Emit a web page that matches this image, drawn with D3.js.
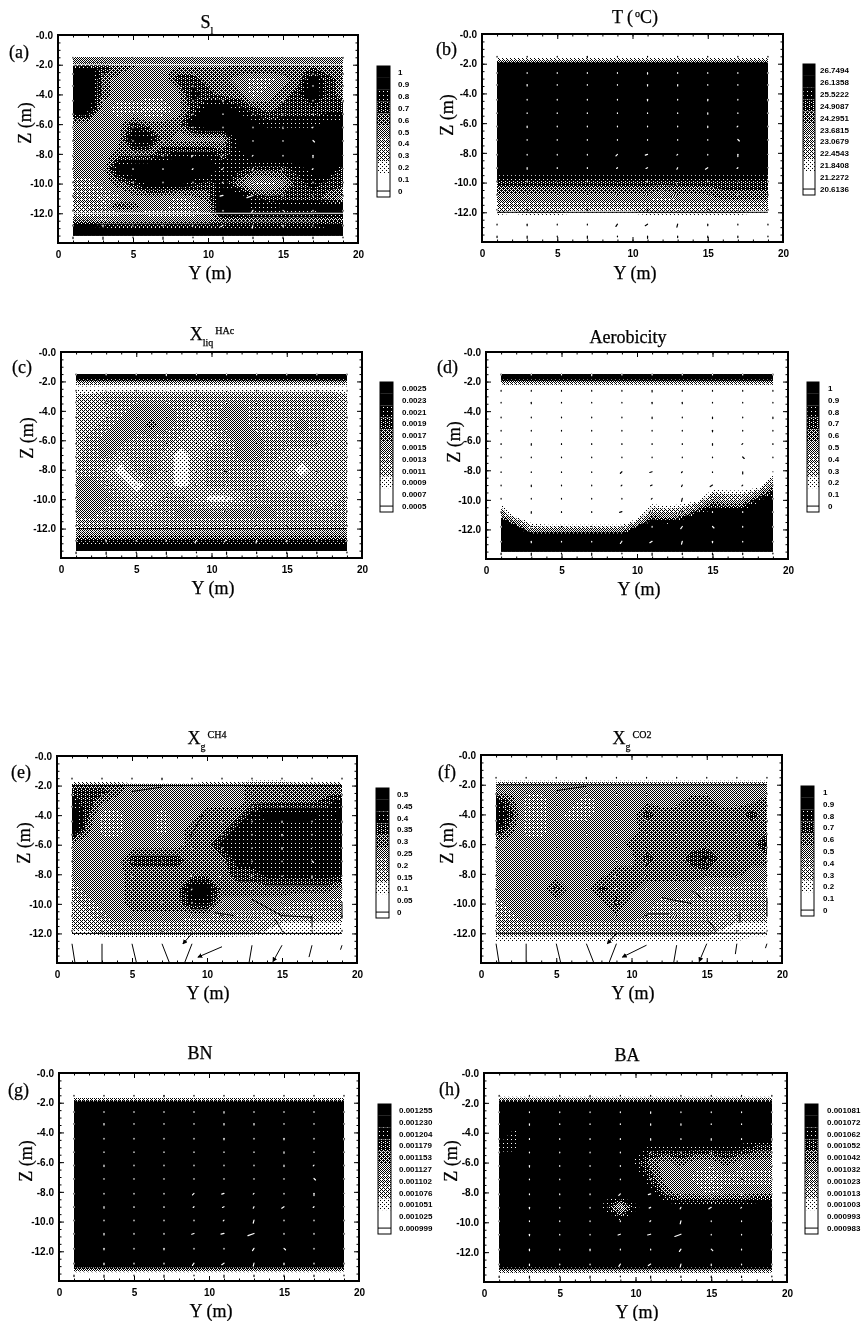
<!DOCTYPE html>
<html>
<head>
<meta charset="utf-8">
<script src="https://cdn.jsdelivr.net/npm/d3@7"></script>
<style>
  html, body { margin: 0; padding: 0; background: #fff; }
  .tick text { font-family: "Liberation Sans", sans-serif; font-weight: bold; font-size: 10px; fill: #000; }
  .serif { font-family: "Liberation Serif", serif; font-size: 18px; fill: #000; stroke: #000; stroke-width: 0.25px; }
  .bar-label { font-family: "Liberation Sans", sans-serif; font-weight: bold; font-size: 8px; fill: #000; }
</style>
</head>
<body>
<div class="canvas"></div>
<script>
// grid of the model output, fields below are written as colour bar band (0-10)
const gridY = [1,2,3,4,5,6,7,8,9,10,11,12,13,14,15,16,17,18,19];
const gridZ = [-1.5,-1.8,-2,-2.4,-3,-4,-5,-6,-7,-8,-9,-10,-11,-11.5,-12,-12.4,-13,-13.5];

const fieldA = [
  [5,5,5,5,5,5,5,5,5,5,5,5,5,5,5,5,5,5,5],
  [5,5,5,5,5,5,5,5,5,5,5,5,5,5,5,5,5,5,5],
  [6,7,7,6,6,5,5,5,5,5,5,6,6,6,6,6,6,6,6],
  [10,10,7,6,5,5,5,6,6,6,6,6,6,6,6,6,7,6,6],
  [10,10,6,5,5,5,5,7,7,6,6,5,4,4,5,6,9,7,6],
  [10,10,6,5,5,5,5,5,8,7,6,6,4,5,6,7,10,7,6],
  [10,9,5,4,4,3,3,5,7,9,10,8,7,6,7,7,7,7,7],
  [5,5,5,5,7,6,6,6,9,10,10,10,9,8,8,8,8,9,9],
  [5,5,5,5,9,9,6,5,5,5,5,9,10,10,10,10,10,10,10],
  [5,5,5,6,6,6,7,8,8,8,7,8,10,10,10,10,10,10,10],
  [5,5,5,9,10,10,10,10,10,10,8,8,7,7,7,8,9,10,7],
  [4,4,5,6,7,9,9,9,8,7,8,6,4,4,5,7,8,7,7],
  [4,4,3,4,5,5,5,4,5,6,10,10,8,7,7,7,7,6,5],
  [3,4,4,7,6,5,5,4,4,5,10,10,8,8,9,9,9,9,9],
  [4,3,4,4,5,4,4,4,4,5,10,10,8,8,8,8,8,9,9],
  [5,5,4,5,5,5,5,5,5,5,6,6,6,6,6,6,6,6,6],
  [9,9,9,8,8,8,8,8,8,8,8,8,8,8,8,8,8,9,9],
  [10,10,10,10,10,10,10,10,10,10,10,10,10,10,10,10,10,10,10]
];
const fieldB = [
  [0,0,0,0,0,0,0,0,0,0,0,0,0,0,0,0,0,0,0],
  [4,4,4,4,4,4,4,4,4,4,4,4,4,4,4,4,4,4,4],
  [10,10,10,10,10,10,10,10,10,10,10,10,10,10,10,10,10,10,10],
  [10,10,10,10,10,10,10,10,10,10,10,10,10,10,10,10,10,10,10],
  [10,10,10,10,10,10,10,10,10,10,10,10,10,10,10,10,10,10,10],
  [10,10,10,10,10,10,10,10,10,10,10,10,10,10,10,10,10,10,10],
  [10,10,10,10,10,10,10,10,10,10,10,10,10,10,10,10,10,10,10],
  [10,10,10,10,10,10,10,10,10,10,10,10,10,10,10,10,10,10,10],
  [10,10,10,10,10,10,10,10,10,10,10,10,10,10,10,10,10,10,10],
  [10,10,10,10,10,10,10,10,10,10,10,10,10,10,10,10,10,10,10],
  [10,10,10,10,10,10,10,10,10,10,10,10,10,10,10,10,10,10,10],
  [7,7,7,7,7,7,7,7,7,7,7,7,7,7,7,7,7,7,7],
  [5,5,5,5,5,5,5,5,5,5,5,4,5,5,5,6,6,6,6],
  [4,4,4,4,4,4,4,4,4,4,4,4,4,4,4,4,4,4,4],
  [3,2,3,3,3,2,2,2,2,2,3,3,3,3,3,3,3,2,2],
  [0,0,0,0,0,0,0,0,0,0,0,0,0,0,0,0,0,0,0],
  [0,0,0,0,0,0,0,0,0,0,0,0,0,0,0,0,0,0,0],
  [0,0,0,0,0,0,0,0,0,0,0,0,0,0,0,0,0,0,0]
];
const fieldC = [
  [10,10,10,10,10,10,10,10,10,10,10,10,10,10,10,10,10,10,10],
  [10,10,10,10,10,10,10,10,10,10,10,10,10,10,10,10,10,10,10],
  [5,5,5,5,5,5,5,5,5,5,5,5,5,5,5,5,5,5,5],
  [1,1,1,1,1,1,1,1,1,1,1,1,1,1,1,1,1,1,1],
  [3,3,4,4,4,4,4,4,4,4,4,4,4,4,4,4,4,4,3],
  [3,3,3,4,5,5,5,4,3,4,5,5,4,4,4,4,4,3,3],
  [3,3,4,5,5,6,5,4,3,4,5,5,4,3,4,5,4,3,3],
  [3,4,5,5,4,4,4,3,3,3,4,5,5,4,4,4,4,3,3],
  [3,4,5,3,4,4,3,2,3,4,4,5,5,4,3,3,3,3,3],
  [4,4,3,2,4,5,3,2,3,4,4,4,4,3,3,2,3,3,3],
  [5,5,4,3,2,3,3,2,3,4,4,4,4,3,3,3,3,3,3],
  [5,5,5,4,3,3,4,4,3,2,2,3,4,4,4,4,3,3,4],
  [5,5,4,4,4,4,4,5,5,5,5,5,5,5,4,4,4,4,4],
  [4,4,4,4,4,4,4,4,4,4,4,4,4,4,4,4,4,4,4],
  [4,4,4,4,4,4,4,4,4,4,4,4,4,4,4,4,4,4,4],
  [5,5,5,5,5,5,5,5,5,5,5,5,5,5,5,5,5,5,5],
  [8,8,8,8,8,8,8,8,8,8,8,8,8,8,8,8,8,8,8],
  [10,10,10,10,10,10,10,10,10,10,10,10,10,10,10,10,10,10,10]
];
const fieldD = [
  [10,10,10,10,10,10,10,10,10,10,10,10,10,10,10,10,10,10,10],
  [10,10,10,10,10,10,10,10,10,10,10,10,10,10,10,10,10,10,10],
  [5,5,5,5,5,5,5,5,5,5,5,5,5,5,5,5,5,5,5],
  [0,0,0,0,0,0,0,0,0,0,0,0,0,0,0,0,0,0,0],
  [0,0,0,0,0,0,0,0,0,0,0,0,0,0,0,0,0,0,0],
  [0,0,0,0,0,0,0,0,0,0,0,0,0,0,0,0,0,0,0],
  [0,0,0,0,0,0,0,0,0,0,0,0,0,0,0,0,0,0,0],
  [0,0,0,0,0,0,0,0,0,0,0,0,0,0,0,0,0,0,0],
  [0,0,0,0,0,0,0,0,0,0,0,0,0,0,0,0,0,0,0],
  [0,0,0,0,0,0,0,0,0,0,0,0,0,0,0,0,0,0,0],
  [0,0,0,0,0,0,0,0,0,0,0,0,0,0,0,0,0,0,5],
  [0,0,0,0,0,0,0,0,0,0,0,0,0,1,5,4,4,8,10],
  [5,0,0,0,0,0,0,0,0,0,5,4,5,9,10,10,10,10,10],
  [10,5,1,0,0,0,0,0,0,3,9,8,10,10,10,10,10,10,10],
  [10,10,4,4,4,4,4,4,4,10,10,10,10,10,10,10,10,10,10],
  [10,10,9,9,9,9,9,9,9,10,10,10,10,10,10,10,10,10,10],
  [10,10,10,10,10,10,10,10,10,10,10,10,10,10,10,10,10,10,10],
  [10,10,10,10,10,10,10,10,10,10,10,10,10,10,10,10,10,10,10]
];
const fieldE = [
  [0,0,0,0,0,0,0,0,0,0,0,0,0,0,0,0,0,0,0],
  [2,2,2,2,1,1,1,1,1,2,2,2,3,3,3,2,2,2,2],
  [6,6,6,6,5,5,5,5,5,5,5,5,6,6,6,6,6,6,6],
  [7,7,7,6,5,5,5,5,5,5,5,5,6,6,6,6,6,6,6],
  [8,7,6,5,5,5,5,5,5,5,5,5,6,6,6,6,6,7,8],
  [10,7,4,4,5,5,4,5,5,6,6,6,8,9,9,9,9,8,9],
  [10,6,4,4,5,5,4,5,6,6,6,8,8,8,8,8,8,8,8],
  [5,5,5,5,5,5,5,5,6,6,8,8,8,8,8,8,8,8,8],
  [5,5,5,5,7,7,7,7,6,6,6,8,8,8,8,8,8,8,8],
  [5,5,5,5,6,6,6,6,6,6,6,7,7,8,8,8,8,8,8],
  [4,5,5,5,6,6,6,6,9,9,6,6,6,6,6,6,6,6,5],
  [3,4,5,5,6,6,6,6,8,8,5,5,5,5,5,4,4,4,4],
  [3,3,4,5,5,5,5,5,4,4,4,4,4,3,3,3,3,3,3],
  [3,3,3,4,4,4,4,4,4,3,3,3,3,3,2,2,2,2,2],
  [2,2,3,3,3,3,3,3,3,3,3,3,3,2,2,2,2,2,2],
  [0,0,0,1,1,1,1,1,1,1,1,0,0,0,0,0,0,0,0],
  [0,0,0,0,0,0,0,0,0,0,0,0,0,0,0,0,0,0,0],
  [0,0,0,0,0,0,0,0,0,0,0,0,0,0,0,0,0,0,0]
];
const fieldF = [
  [0,0,0,0,0,0,0,0,0,0,0,0,0,0,0,0,0,0,0],
  [2,2,2,2,2,2,2,2,2,2,2,2,2,2,2,2,2,2,2],
  [5,5,5,5,5,5,5,5,5,5,5,5,5,5,5,5,5,5,5],
  [5,5,5,5,5,5,5,5,5,5,5,5,5,5,5,5,5,5,5],
  [8,6,4,4,5,5,4,5,5,5,5,5,5,6,6,5,5,5,6],
  [9,7,4,4,5,4,4,5,5,5,7,6,6,6,6,6,6,7,6],
  [8,6,4,4,5,5,5,5,5,5,6,6,6,6,6,6,6,6,6],
  [5,5,5,5,5,5,5,5,5,6,6,6,6,6,6,6,6,6,8],
  [5,5,5,5,5,5,5,5,5,5,7,6,6,7,8,6,6,6,6],
  [5,5,5,5,5,5,5,5,6,6,6,6,6,6,6,6,6,5,5],
  [5,5,5,5,7,5,5,7,6,6,5,5,5,5,4,4,4,4,4],
  [4,5,5,5,5,5,5,5,7,5,5,4,4,4,4,4,4,4,4],
  [4,4,5,5,5,5,5,5,5,5,4,4,4,4,4,3,3,3,3],
  [4,4,4,4,4,4,4,4,4,4,4,4,4,4,3,3,2,2,2],
  [3,3,3,3,3,3,3,3,3,3,3,3,3,3,3,2,2,2,2],
  [2,2,2,2,2,2,2,2,2,2,2,2,2,2,2,2,2,1,1],
  [0,0,0,0,0,0,0,0,0,0,0,0,0,0,0,0,0,0,0],
  [0,0,0,0,0,0,0,0,0,0,0,0,0,0,0,0,0,0,0]
];
const fieldG = [
  [0,0,0,0,0,0,0,0,0,0,0,0,0,0,0,0,0,0,0],
  [4,4,4,4,4,4,4,4,4,4,4,4,4,4,4,4,4,4,4],
  [10,10,10,10,10,10,10,10,10,10,10,10,10,10,10,10,10,10,10],
  [10,10,10,10,10,10,10,10,10,10,10,10,10,10,10,10,10,10,10],
  [10,10,10,10,10,10,10,10,10,10,10,10,10,10,10,10,10,10,10],
  [10,10,10,10,10,10,10,10,10,10,10,10,10,10,10,10,10,10,10],
  [10,10,10,10,10,10,10,10,10,10,10,10,10,10,10,10,10,10,10],
  [10,10,10,10,10,10,10,10,10,10,10,10,10,10,10,10,10,10,10],
  [10,10,10,10,10,10,10,10,10,10,10,10,10,10,10,10,10,10,10],
  [10,10,10,10,10,10,10,10,10,10,10,10,10,10,10,10,10,10,10],
  [10,10,10,10,10,10,10,10,10,10,10,10,10,10,10,10,10,10,10],
  [10,10,10,10,10,10,10,10,10,10,10,10,10,10,10,10,10,10,10],
  [10,10,10,10,10,10,10,10,10,10,10,10,10,10,10,10,10,10,10],
  [10,10,10,10,10,10,10,10,10,10,10,10,10,10,10,10,10,10,10],
  [10,10,10,10,10,10,10,10,10,10,10,10,10,10,10,10,10,10,10],
  [10,10,10,10,10,10,10,10,10,10,10,10,10,10,10,10,10,10,10],
  [9,9,9,9,9,9,9,9,9,9,9,9,9,9,9,9,9,9,9],
  [0,0,0,0,0,0,0,0,0,0,0,0,0,0,0,0,0,0,0]
];
const fieldH = [
  [0,0,0,0,0,0,0,0,0,0,0,0,0,0,0,0,0,0,0],
  [5,5,5,5,5,5,5,5,5,5,5,5,5,5,5,5,5,5,5],
  [9,9,9,9,9,9,9,9,9,9,9,9,9,9,9,9,9,9,9],
  [10,10,10,10,10,10,10,10,10,10,10,10,10,10,10,10,10,10,10],
  [10,10,10,10,10,10,10,10,10,10,10,10,10,10,10,10,10,10,10],
  [10,8,10,10,10,10,10,10,10,10,10,10,10,10,10,10,10,10,10],
  [8,8,10,10,10,10,10,10,10,10,8,8,8,8,8,8,8,7,7],
  [10,10,10,10,10,10,10,10,10,8,6,5,6,5,5,6,5,5,5],
  [10,10,10,10,10,10,10,10,10,10,7,5,5,4,3,4,4,4,4],
  [10,10,10,10,10,10,10,9,10,10,9,6,5,5,4,5,5,5,5],
  [10,10,10,10,9,10,10,8,4,8,10,10,9,9,9,9,9,10,10],
  [10,10,10,10,10,10,10,10,9,10,10,10,10,10,10,10,10,10,10],
  [10,10,10,10,10,10,10,10,10,10,10,10,10,10,10,10,10,10,10],
  [10,10,10,10,10,10,10,10,10,10,10,10,10,10,10,10,10,10,10],
  [10,10,10,10,10,10,10,10,10,10,10,10,10,10,10,10,10,10,10],
  [10,10,10,10,10,10,10,10,10,10,10,10,10,10,10,10,10,10,10],
  [9,9,9,9,9,9,9,9,9,9,9,9,9,9,9,9,9,9,9],
  [0,0,0,0,0,0,0,0,0,0,0,0,0,0,0,0,0,0,0]
];

// colour bar labels, top to bottom
const labelsA = ["1","0.9","0.8","0.7","0.6","0.5","0.4","0.3","0.2","0.1","0"];
const labelsB = ["26.7494","26.1358","25.5222","24.9087","24.2951","23.6815","23.0679","22.4543","21.8408","21.2272","20.6136"];
const labelsC = ["0.0025","0.0023","0.0021","0.0019","0.0017","0.0015","0.0013","0.0011","0.0009","0.0007","0.0005"];
const labelsE = ["0.5","0.45","0.4","0.35","0.3","0.25","0.2","0.15","0.1","0.05","0"];
const labelsG = ["0.001255","0.001230","0.001204","0.001179","0.001153","0.001127","0.001102","0.001076","0.001051","0.001025","0.000999"];
const labelsH = ["0.001081","0.001072","0.001062","0.001052","0.001042","0.001032","0.001023","0.001013","0.001003","0.000993","0.000983"];

// axes
const yMajor = [0,5,10,15,20];
const yMinor = d3.range(0,21);
const zMajor = [0,-2,-4,-6,-8,-10,-12,-14];
const zMinor = d3.range(0,-14.5,-0.5);

// liquid velocity marks: start position and displacement, in metres
const quiverY = [1,3,5,7,9,11,13,15,17,19];
const quiverZ = [-1.5,-2.6,-3.4,-4.4,-5.3,-6.2,-7.1,-8.1,-9,-9.9,-10.8,-11.8,-12.8,-13.6];
const quiverU = [
  [0,0,0,0,0,0,0,0,0,0],
  [0,0,0,0,0,0,0,0,0,0],
  [0,0,0,0,0,0,0,0,0,0],
  [0,0,0,0,0,0,0,0,0,0],
  [0,0,0,0,0,0,0,0,0,0],
  [0,0,0,0,0,0,0,0,-.05,0],
  [0,0,0,0,0,0,0,0,.1,0],
  [0,0,0,0,-.1,-.15,-.05,0,0,0],
  [0,0,0,0,-.05,-.1,-.05,-.15,-.05,0],
  [0,0,0,0,0,-.05,-.05,0,0,0],
  [0,0,0,0,-.15,-.2,-.4,0,0,0],
  [0,0,0,0,0,0,-.1,.1,0,0],
  [0,0,0,0,-.1,-.15,-.05,0,0,0],
  [0,0,0,0,0,0,0,0,0,0]
];
const quiverW = [
  [-.05,-.05,-.05,-.1,-.05,-.05,-.05,-.05,-.05,-.05],
  [-.05,-.05,-.05,-.05,-.05,-.1,-.05,-.05,-.05,-.05],
  [-.05,-.1,-.05,-.05,-.05,-.1,-.1,-.05,-.05,-.05],
  [-.05,-.05,-.05,-.05,-.05,-.1,-.05,-.1,-.05,-.1],
  [-.05,-.05,-.05,-.05,-.05,-.05,-.05,-.1,-.05,-.05],
  [-.05,-.1,-.05,-.05,-.05,-.05,-.05,-.1,-.05,-.05],
  [-.05,-.05,-.05,-.05,-.05,-.05,-.05,-.05,-.1,-.05],
  [-.05,-.05,-.05,-.05,-.1,-.05,-.05,-.05,-.15,0],
  [-.05,-.1,-.05,-.05,-.05,-.05,-.1,-.1,-.05,0],
  [-.05,-.05,-.05,-.05,-.05,-.05,-.2,-.05,-.05,-.05],
  [-.05,-.1,-.05,-.05,-.05,-.05,-.15,-.05,-.05,-.05],
  [-.05,-.1,-.05,-.1,-.05,-.05,-.15,-.1,-.05,-.05],
  [-.05,-.1,-.05,-.05,-.15,-.1,-.2,-.1,-.05,-.05],
  [-.1,-.15,-.05,-.15,-.05,-.15,-.1,-.1,-.1,-.05]
];

// gas velocity [y0, z0, y1, z1]: plain dashes, then the few with a head
const stemsE = [
  [1,-12.7,1.2,-14],[3,-12.7,3,-14],[5,-12.7,5.3,-14],[7,-12.7,7.5,-14],[9,-12.7,8.5,-14],
  [13,-12.8,12.8,-14],[17,-12.8,16.8,-13.6],[19,-12.8,18.9,-13.1],
  [17,-10.8,17,-11.6],[19,-10,19,-11],[13,-9.7,15,-10.8],[15,-10.8,17,-10.9],
  [14.5,-11,15,-11.8],[11.8,-10.8,10.5,-10.6],[7,-2.1,5,-2.4],[9.7,-4,8.8,-5.6]
];
const headsE = [[11,-12.9,9.4,-13.6],[15,-12.8,14.4,-13.9],[9,-12,8.4,-12.7]];
const stemsF = [
  [1,-12.7,1.2,-14],[3,-12.7,3,-14],[5,-12.7,5.3,-14],[7,-12.7,7.5,-14],[9,-12.7,8.5,-14],
  [13,-12.8,12.8,-14],[17,-12.7,16.9,-13.4],[19,-12.7,18.9,-13],
  [14,-9.1,15,-9.9],[12,-9.6,14,-10],[17.2,-10.6,17.2,-11.3],[19,-9.6,19,-10.8],
  [15,-11,15.6,-11.8],[11,-10.7,12.5,-10.7],[7,-2.1,5,-2.4]
];
const headsF = [[11,-12.8,9.4,-13.6],[15,-12.7,14.5,-13.9],[9,-12,8.4,-12.7]];

// 4x4 halftone tiles for the 11 bands, bottom of the bar first
const halftones = [
  "0000000000000000","0000000000000000","1000000000100000","1010010010100001",
  "1010010110100001","1010010110100101","1011010111100101","1111101111101011",
  "1111111111111110","1111111111111111","1111111111111111"
];

const panels = [
  {tag:"(a)", field:fieldA, labels:labelsA, box:[58,35,358,243], bar:[377,66,390,197], barText:398, tagPos:[9,58], zPos:[31,123], yPos:[210,279], title:{x:207,y:28,parts:[["S",0],["l",1]]}, lines:[[-2,"#fff"],[-12,"#fff"]]},
  {tag:"(b)", field:fieldB, labels:labelsB, box:[482,34,783,242], bar:[803,64,815,195], barText:820, tagPos:[436,55], zPos:[453,115], yPos:[635,279], title:{x:635,y:23,parts:[["T (",0],["o",-1],["C)",0]]}, lines:[[-12,"#000"]]},
  {tag:"(c)", field:fieldC, labels:labelsC, box:[61,352,362,558], bar:[380,382,393,512], barText:402, tagPos:[12,373], zPos:[33,438], yPos:[213,594], title:{x:212,y:340,parts:[["X",0],["liq",1],["HAc",-1]]}, lines:[[-12,"#000"]]},
  {tag:"(d)", field:fieldD, labels:labelsA, box:[486,352,788,559], bar:[807,382,819,512], barText:828, tagPos:[437,373], zPos:[460,442], yPos:[639,595], title:{x:628,y:343,parts:[["Aerobicity",0]]}, lines:[]},
  {tag:"(e)", field:fieldE, labels:labelsE, box:[57,756,357,963], bar:[376,788,389,918], barText:397, tagPos:[11,778], zPos:[30,843], yPos:[208,999], title:{x:207,y:744,parts:[["X",0],["g",1],["CH4",-1]]}, lines:[[-2,"#000"],[-12,"#000"]], stems:stemsE, heads:headsE},
  {tag:"(f)", field:fieldF, labels:labelsA, box:[481,755,782,963], bar:[801,786,814,916], barText:823, tagPos:[438,778], zPos:[453,843], yPos:[633,999], title:{x:632,y:744,parts:[["X",0],["g",1],["CO2",-1]]}, lines:[[-2,"#000"],[-12,"#000"]], stems:stemsF, heads:headsF},
  {tag:"(g)", field:fieldG, labels:labelsG, box:[59,1073,359,1281], bar:[378,1104,391,1234], barText:399, tagPos:[8,1096], zPos:[32,1161], yPos:[211,1317], title:{x:200,y:1059,parts:[["BN",0]]}, lines:[]},
  {tag:"(h)", field:fieldH, labels:labelsH, box:[484,1073,787,1282], bar:[805,1104,818,1234], barText:827, tagPos:[439,1095], zPos:[457,1161], yPos:[637,1318], title:{x:627,y:1061,parts:[["BA",0]]}, lines:[]}
];

const svg = d3.select(".canvas")
              .append("svg")
              .attr("width", 864)
              .attr("height", 1321)
              .style("display", "block");

const defs = svg.append("defs");

halftones.forEach((tile, i) => {
    const p = defs.append("pattern")
                  .attr("id", "ht" + i)
                  .attr("patternUnits", "userSpaceOnUse")
                  .attr("width", 4)
                  .attr("height", 4);
    p.append("rect").attr("width", 4).attr("height", 4).attr("fill", "#fff");
    tile.split("").forEach((c, k) => {
        if (c === "1") {
            p.append("rect")
             .attr("x", k % 4)
             .attr("y", Math.floor(k / 4))
             .attr("width", 1)
             .attr("height", 1)
             .attr("fill", "#000");
        }
    });
});

defs.append("marker")
    .attr("id", "head")
    .attr("viewBox", "0 0 6 6")
    .attr("refX", 5)
    .attr("refY", 3)
    .attr("markerWidth", 5)
    .attr("markerHeight", 5)
    .attr("orient", "auto")
    .append("path")
    .attr("d", "M0,0L6,3L0,6Z")
    .attr("fill", "#000");

const nx = gridY.length;
const ny = gridZ.length;

panels.forEach(panel => {
    panel.field.forEach(row => {
        if (row.length !== nx) throw new Error(panel.tag + " row has " + row.length);
    });
    if (panel.field.length !== ny) throw new Error(panel.tag + " rows " + panel.field.length);

    const [x0, y0, x1, y1] = panel.box;
    const g = svg.append("g");

    const x = d3.scaleLinear().domain([0, 20]).range([x0, x1]);
    const z = d3.scaleLinear().domain([0, -14]).range([y0, y1]);

    // grid index to px, rows are not evenly spaced
    const colPx = d3.scaleLinear().domain(d3.range(nx)).range(gridY.map(x)).clamp(true);
    const rowPx = d3.scaleLinear().domain(d3.range(ny)).range(gridZ.map(z)).clamp(true);
    const path = d3.geoPath(d3.geoTransform({
        point(px, py) { this.stream.point(colPx(px - 0.5), rowPx(py - 0.5)); }
    }));

    // thresholds 1.5, 2.5 ... 9.5 start the bands 2, 3 ... 10, bands 0 and 1 stay white
    const contours = d3.contours()
                       .size([nx, ny])
                       .smooth(true)
                       .thresholds(d3.range(1.5, 10.5, 1))(panel.field.flat());

    g.append("g").selectAll("path")
     .data(contours)
     .enter().append("path")
     .attr("d", path)
     .attr("fill", (d, i) => "url(#ht" + (i + 2) + ")");

    panel.lines.forEach(([val, color]) => {
        g.append("line")
         .attr("x1", x(1)).attr("x2", x(19))
         .attr("y1", z(val)).attr("y2", z(val))
         .attr("stroke", color)
         .attr("stroke-width", 1);
    });

    // velocity marks invert whatever is under them
    quiverZ.forEach((zv, r) => {
        quiverY.forEach((yv, c) => {
            if (panel.stems && zv < -12) return;
            g.append("line")
             .attr("x1", x(yv)).attr("y1", z(zv))
             .attr("x2", x(yv + quiverU[r][c])).attr("y2", z(zv + quiverW[r][c]))
             .attr("stroke", "#fff")
             .attr("stroke-width", 1.2)
             .attr("stroke-linecap", "round")
             .style("mix-blend-mode", "difference");
        });
    });

    if (panel.stems) {
        g.append("g").selectAll("line")
         .data(panel.stems.concat(panel.heads))
         .enter().append("line")
         .attr("x1", d => x(d[0])).attr("y1", d => z(d[1]))
         .attr("x2", d => x(d[2])).attr("y2", d => z(d[3]))
         .attr("stroke", "#000")
         .attr("stroke-width", 1)
         .attr("marker-end", d => panel.heads.includes(d) ? "url(#head)" : null);
    }

    // ticks point inward on all four sides
    const sides = [
        [d3.axisBottom(x), y1, true, yMajor, yMinor],
        [d3.axisTop(x), y0, true, yMajor, yMinor],
        [d3.axisLeft(z), x0, false, zMajor, zMinor],
        [d3.axisRight(z), x1, false, zMajor, zMinor]
    ];
    sides.forEach(([axis, pos, horizontal, major, minor]) => {
        const at = horizontal ? "translate(0," + pos + ")" : "translate(" + pos + ",0)";
        g.append("g").attr("transform", at)
         .call(axis.tickValues(minor).tickSize(-2.5).tickFormat(""))
         .call(s => s.select(".domain").remove());
        g.append("g").attr("transform", at)
         .call(axis.tickValues(major).tickSize(-5).tickFormat(""))
         .call(s => s.select(".domain").remove());
    });

    g.append("g").attr("transform", "translate(0," + y1 + ")")
     .call(d3.axisBottom(x).tickValues(yMajor).tickSize(0).tickPadding(8))
     .call(s => s.select(".domain").remove());
    g.append("g").attr("transform", "translate(" + x0 + ",0)")
     .call(d3.axisLeft(z).tickValues(zMajor.slice(0, -1)).tickSize(0).tickPadding(5)
             .tickFormat(d => "-" + Math.abs(d).toFixed(1)))
     .call(s => s.select(".domain").remove());

    g.append("rect")
     .attr("x", x0).attr("y", y0)
     .attr("width", x1 - x0).attr("height", y1 - y0)
     .attr("fill", "none")
     .attr("stroke", "#000")
     .attr("stroke-width", 2);

    // colour bar
    const [bx0, by0, bx1, by1] = panel.bar;
    const band = d3.scaleBand().domain(panel.labels).range([by0, by1]);
    const bar = g.append("g");
    bar.selectAll("rect")
       .data(panel.labels)
       .enter().append("rect")
       .attr("x", bx0)
       .attr("y", d => band(d))
       .attr("width", bx1 - bx0)
       .attr("height", band.bandwidth())
       .attr("fill", (d, i) => "url(#ht" + (10 - i) + ")");
    bar.append("rect")
       .attr("x", bx0).attr("y", by0)
       .attr("width", bx1 - bx0).attr("height", by1 - by0)
       .attr("fill", "none")
       .attr("stroke", "#000");
    const zeroLabel = panel.labels[10];
    bar.append("line")
       .attr("x1", bx0).attr("x2", bx1)
       .attr("y1", band(zeroLabel) + band.bandwidth() / 2)
       .attr("y2", band(zeroLabel) + band.bandwidth() / 2)
       .attr("stroke", "#000");
    bar.selectAll("text")
       .data(panel.labels)
       .enter().append("text")
       .attr("class", "bar-label")
       .attr("x", panel.barText)
       .attr("y", d => band(d) + band.bandwidth() / 2 + 3)
       .text(d => d);

    // text
    g.append("text").attr("class", "serif")
     .attr("x", panel.tagPos[0]).attr("y", panel.tagPos[1])
     .text(panel.tag);
    g.append("text").attr("class", "serif")
     .attr("x", panel.yPos[0]).attr("y", panel.yPos[1])
     .attr("text-anchor", "middle")
     .text("Y (m)");
    g.append("text").attr("class", "serif")
     .attr("transform", "translate(" + panel.zPos[0] + "," + panel.zPos[1] + ") rotate(-90)")
     .attr("text-anchor", "middle")
     .text("Z (m)");

    const title = g.append("text").attr("class", "serif")
                   .attr("x", panel.title.x).attr("y", panel.title.y)
                   .attr("text-anchor", "middle");
    let level = 0;
    panel.title.parts.forEach(([txt, shift]) => {
        title.append("tspan")
             .attr("dy", (shift - level) * 6)
             .attr("dx", shift === -1 ? 2 : 0)
             .style("font-size", shift === 0 ? "18px" : "10px")
             .text(txt);
        level = shift;
    });
});
</script>
</body>
</html>
